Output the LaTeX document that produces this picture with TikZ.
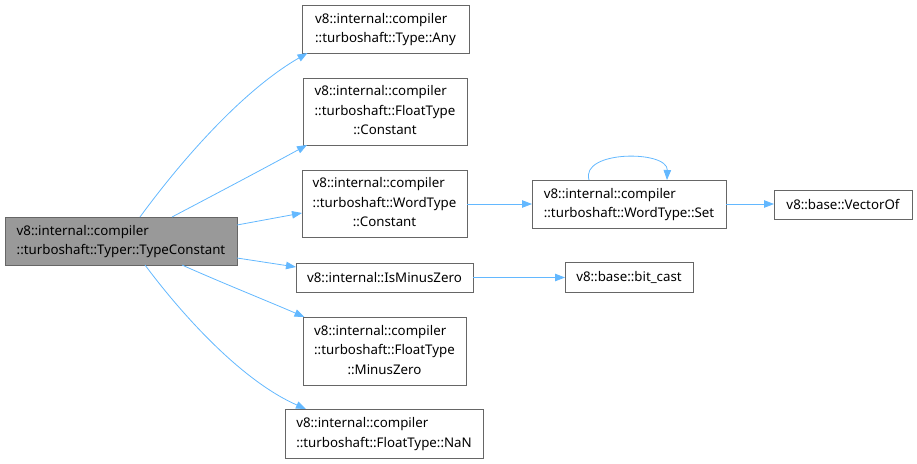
\documentclass[tikz,border=0pt]{standalone}
\usepackage{fontspec}
\setmainfont{Noto Sans}
\usetikzlibrary{arrows.meta,calc}
\definecolor{edgeblue}{HTML}{63B8FF}
\definecolor{boxline}{HTML}{666666}
\definecolor{boxfill}{HTML}{999999}
\newcommand{\lbl}[1]{\begin{tabular}{@{}l@{}}#1\end{tabular}}
\newcommand{\lastc}[1]{\multicolumn{1}{@{}c@{}}{#1}}
\begin{document}
\begin{tikzpicture}[x=1pt,y=-1pt,
  fn/.style={draw=boxline,line width=0.8pt,fill=white,inner sep=0pt,outer sep=0pt,
    font=\fontsize{13.3}{15}\selectfont},
  edge/.style={draw=edgeblue,line width=0.8pt,-{Triangle[length=10pt,width=7.5pt]}}]
\renewcommand{\arraystretch}{1.3}
\useasboundingbox (0,0) rectangle (917,463);
\node[fn,fill=boxfill,minimum width=232pt,minimum height=48pt] (TC) at (121,241)
  {\lbl{v8::internal::compiler\\::turboshaft::Typer::TypeConstant}};
\node[fn,minimum width=167pt,minimum height=48pt] (Any) at (385.5,29)
  {\lbl{v8::internal::compiler\\::turboshaft::Type::Any}};
\node[fn,minimum width=164pt,minimum height=67pt] (FC) at (385,111.5)
  {\lbl{v8::internal::compiler\\::turboshaft::FloatType\\\lastc{::Constant}}};
\node[fn,minimum width=165pt,minimum height=67pt] (WC) at (384.5,203.5)
  {\lbl{v8::internal::compiler\\::turboshaft::WordType\\\lastc{::Constant}}};
\node[fn,minimum width=177pt,minimum height=29pt] (IMZ) at (384.5,277.5)
  {v8::internal::IsMinusZero};
\node[fn,minimum width=163pt,minimum height=68pt] (MZ) at (384.5,351)
  {\lbl{v8::internal::compiler\\::turboshaft::FloatType\\\lastc{::MinusZero}}};
\node[fn,minimum width=198pt,minimum height=49pt] (NaN) at (384,433.5)
  {\lbl{v8::internal::compiler\\::turboshaft::FloatType::NaN}};
\node[fn,minimum width=194pt,minimum height=48pt] (Set) at (629,204)
  {\lbl{v8::internal::compiler\\::turboshaft::WordType::Set}};
\node[fn,minimum width=138pt,minimum height=29pt] (VO) at (843,204.5)
  {v8::base::VectorOf};
\node[fn,minimum width=128pt,minimum height=30pt] (BC) at (629,277)
  {v8::base::bit\_cast};
% edges
\draw[edge] ([xshift=19pt]TC.north) .. controls (178,165) and (240,92) .. ([xshift=-78pt]Any.south);
\draw[edge] ([xshift=51pt]TC.north) .. controls (210,197) and (265,168) .. ([xshift=-78pt]FC.south);
\draw[edge] ([yshift=16pt]TC.east) -- ([yshift=-9.5pt]WC.west);
\draw[edge] ([yshift=-17pt]TC.east) -- ([yshift=10.5pt]IMZ.west);
\draw[edge] ([xshift=61pt]TC.south) .. controls (220,282) and (265,300) .. ([xshift=-80pt]MZ.north);
\draw[edge] ([xshift=24pt]TC.south) .. controls (180,312) and (240,380) .. ([xshift=-78pt]NaN.north);
\draw[edge] (WC.east |- Set.west) -- (Set.west);
\draw[edge] ([xshift=-40pt]Set.north) .. controls (580,150) and (668,150) .. ([xshift=38pt]Set.north);
\draw[edge] (Set.east) -- (VO.west |- Set.east);
\draw[edge] (IMZ.east) -- (BC.west |- IMZ.east);
\end{tikzpicture}
\end{document}
